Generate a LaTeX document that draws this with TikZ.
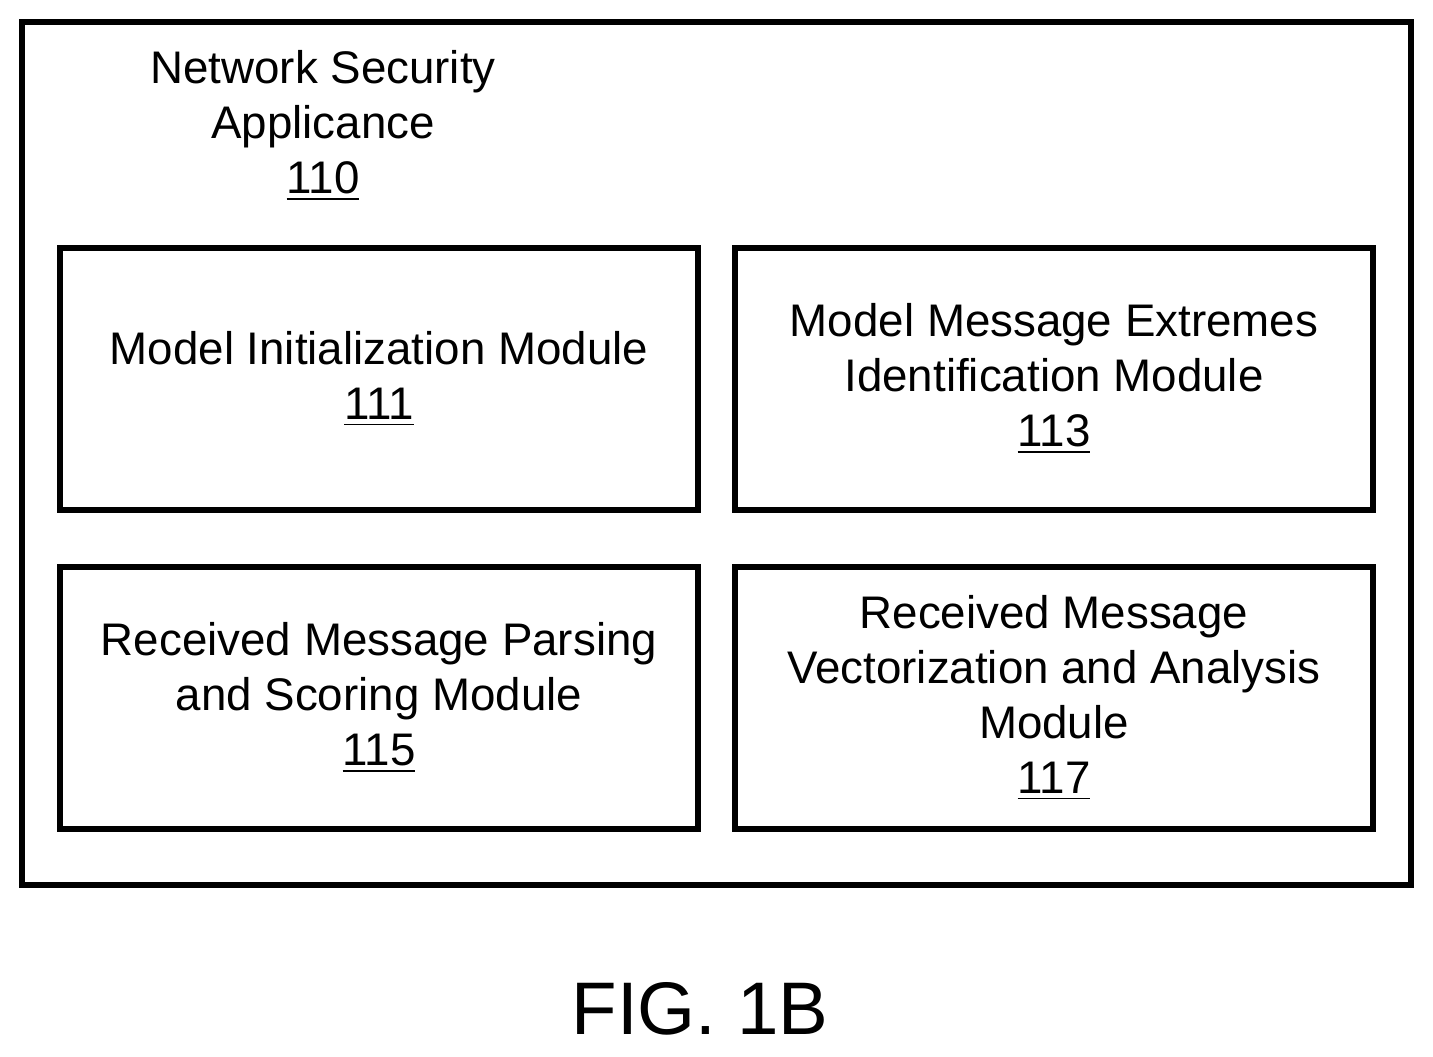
\documentclass[tikz,border=0pt]{standalone}
\usepackage{fontspec}
\setmainfont{Liberation Sans}
\usepackage{tikz}

\begin{document}
\begin{tikzpicture}[module/.style = {draw, line width = 1.6pt, minimum width = 6.38cm, minimum height = 2.62cm, align = center, inner sep = 0pt, font = \fontsize{13}{15.6}\selectfont}]

\useasboundingbox (0, 0) rectangle (14.33, 10.56);

% Appliance
  \draw[line width = 1.6pt] (0.22, 1.71) rectangle (14.11, 10.34);
  \node[align = center, font = \fontsize{13}{15.6}\selectfont] (appliance) at (3.23, 9.3) {Network Security\\Applicance\\\underline{110}};

% Modules
  \node[module] (init) at (3.79, 6.77) {Model Initialization Module\\\underline{111}};
  \node[module] (extremes) at (10.54, 6.77) {Model Message Extremes\\Identification Module\\\underline{113}};
  \node[module] (parsing) at (3.79, 3.58) {Received Message Parsing\\and Scoring Module\\\underline{115}};
  \node[module] (vector) at (10.54, 3.58) {Received Message\\Vectorization and Analysis\\Module\\\underline{117}};

  \node[font = \fontsize{21.2}{26}\selectfont] (fig) at (7.0, 0.47) {FIG. 1B};

\end{tikzpicture}
\end{document}
